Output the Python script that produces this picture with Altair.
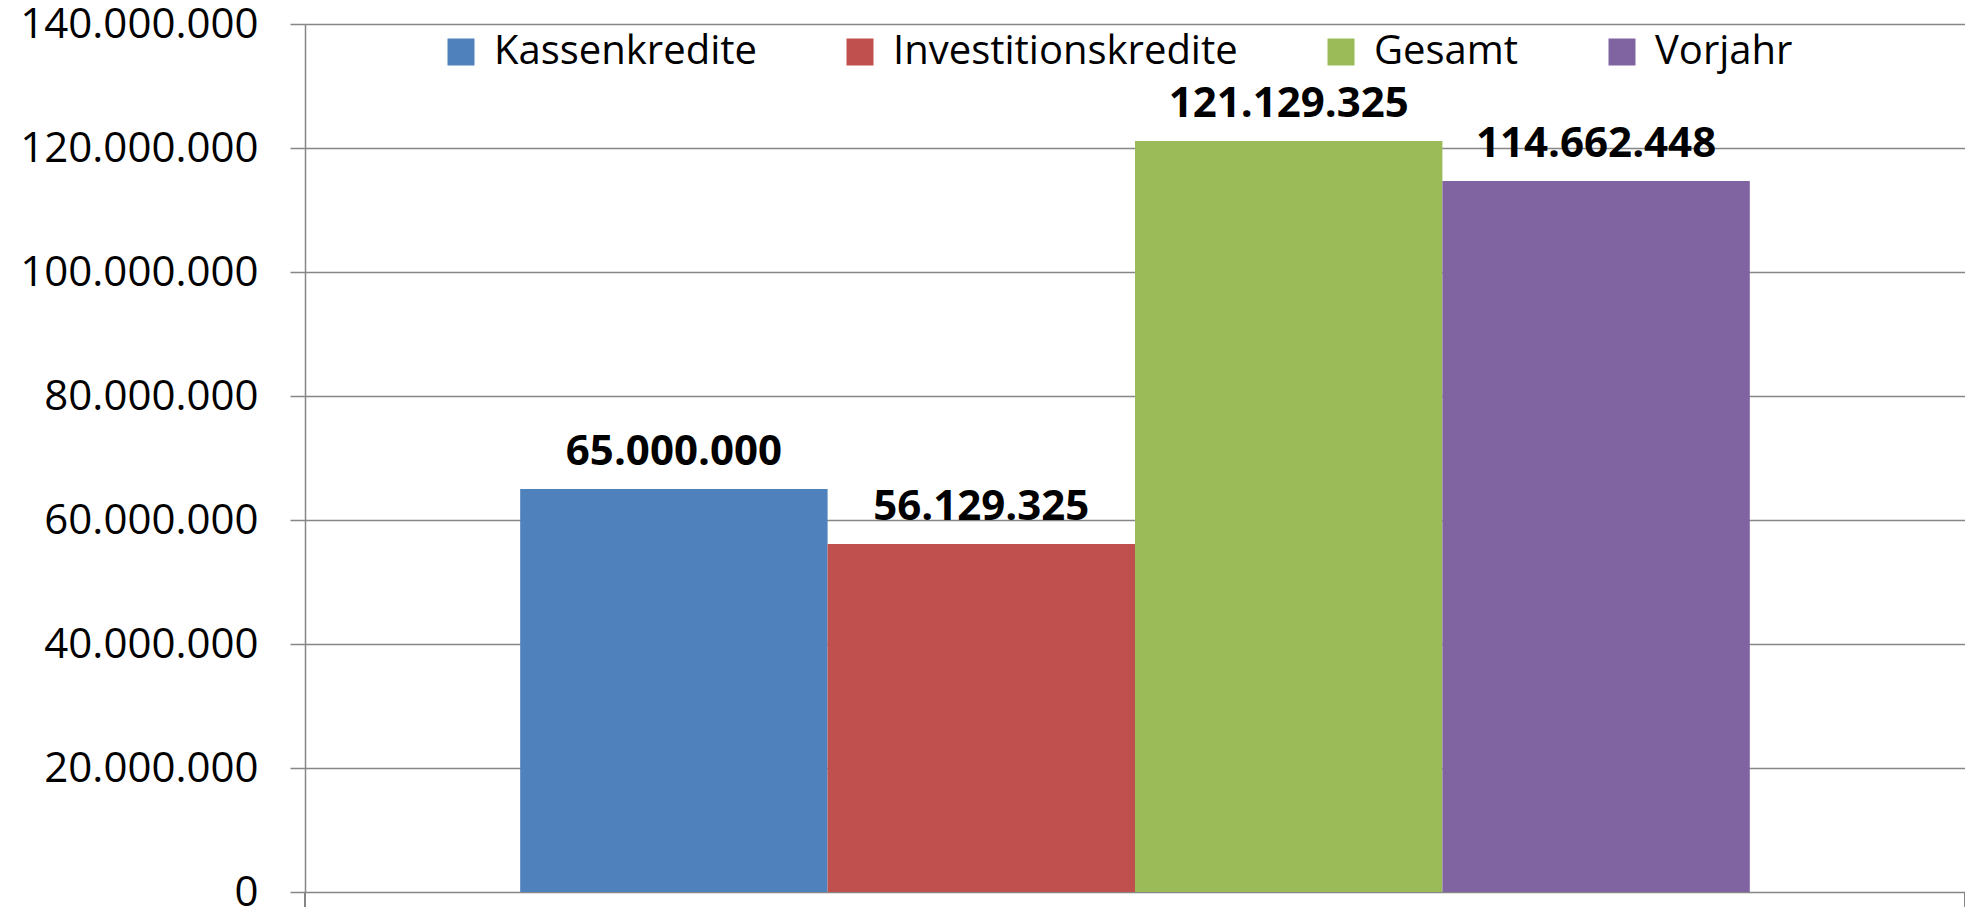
import altair as alt
import pandas as pd

series = ["Kassenkredite", "Investitionskredite", "Gesamt", "Vorjahr"]
values = [65000000, 56129325, 121129325, 114662448]
colors = ["#4F81BD", "#C0504D", "#9BBB59", "#8064A2"]
y_ticks = [0, 20000000, 40000000, 60000000, 80000000, 100000000, 120000000, 140000000]


def de_format(v):
    return f"{v:,}".replace(",", ".")


df = pd.DataFrame({
    "series": series,
    "value": values,
    "label": [de_format(v) for v in values],
})

W, H = 1660, 868
FONT = "Open Sans"
GRID = "#868686"

xenc = alt.X("series:N", sort=series, axis=None,
             scale=alt.Scale(paddingInner=0, paddingOuter=0.7))

base = alt.Chart(df)

bars = base.mark_bar().encode(
    x=xenc,
    y=alt.Y("value:Q",
            scale=alt.Scale(domain=[0, 140000000], nice=False),
            axis=alt.Axis(values=y_ticks, title=None,
                          labelExpr="replace(replace(replace(format(datum.value, ','), ',', '.'), ',', '.'), ',', '.')",
                          labelFont=FONT, labelFontSize=42, labelColor="#000000",
                          labelLimit=500,
                          labelPadding=32, tickSize=15, tickColor=GRID, tickWidth=1.5,
                          domainColor=GRID, domainWidth=1.5,
                          grid=True, gridColor=GRID, gridWidth=1.5)),
    color=alt.Color("series:N", sort=series,
                    scale=alt.Scale(domain=series, range=colors),
                    legend=alt.Legend(title=None, orient="none", legendX=136, legendY=8,
                                      direction="horizontal", columns=4,
                                      symbolType="square", symbolSize=729,
                                      symbolStrokeWidth=0, symbolOpacity=1,
                                      labelFont=FONT, labelFontSize=40, labelColor="#000000",
                                      labelOffset=13, columnPadding=83,
                                      labelLimit=600)),
)

labels = base.mark_text(font=FONT, fontSize=42, fontWeight="bold", color="#000000",
                        baseline="alphabetic", dy=-24).encode(
    x=xenc,
    y=alt.Y("value:Q"),
    text="label:N",
)

left_tick = alt.Chart(df).mark_rule(color=GRID, strokeWidth=1.5).encode(
    x=alt.value(0), y=alt.value(H), y2=alt.value(H + 15),
)
right_tick = alt.Chart(df).mark_rule(color=GRID, strokeWidth=1.5).encode(
    x=alt.value(W), y=alt.value(H), y2=alt.value(H + 15),
)

chart = alt.layer(bars, labels, left_tick, right_tick).properties(
    width=W, height=H,
    autosize=alt.AutoSizeParams(type="none"),
    padding={"left": 297, "top": 16, "right": 0, "bottom": 17},
).configure_view(stroke=None).configure(background="white")

chart.save("out.html", embed_options={"renderer": "svg", "actions": False})
